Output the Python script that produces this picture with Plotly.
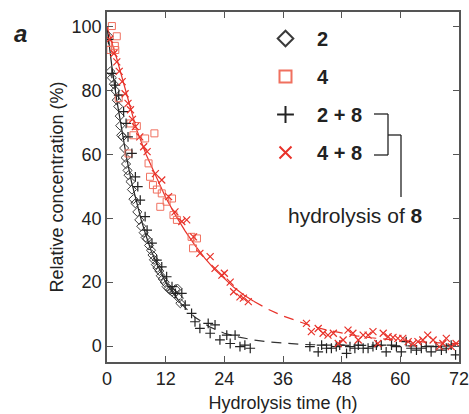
import plotly.graph_objects as go

# ---- data ----
# compound 2 (diamonds)
t2 = [0.3, 0.7, 1.0, 1.4, 1.7, 2.0, 2.3, 2.6, 2.7, 2.9, 3.2, 3.5, 3.8, 3.9, 4.2, 4.4, 4.8, 5.1,
      5.4, 5.8, 6.2, 6.6, 7.0, 7.5, 7.9, 8.2, 8.6, 9.0, 9.3, 9.6, 10.0, 10.3, 10.7, 11.0, 11.4,
      11.8, 12.2, 12.6, 12.9, 13.3, 13.7, 14.0, 14.4, 14.7, 15.0]
y2 = [97, 86, 84, 82, 80, 77, 75, 72, 69, 66, 65.5, 62, 59, 57, 55, 53.5, 51.5, 49,
      46, 44.7, 42, 39.5, 37.5, 35.5, 34, 33.5, 31.5, 30, 28.5, 27, 25.5, 24.5, 23.5, 22, 21,
      20, 18.6, 18, 17.5, 17, 16.5, 17.8, 18, 15, 13.4]

# compound 4 (squares)
t4 = [1.0, 2.0, 1.6, 1.7, 0.7, 2.4, 4.8, 6.1, 5.4, 7.8, 9.7, 4.4, 8.5, 8.8, 9.4, 10.2, 11.2,
      10.9, 12.2, 13.3, 13.6, 14.3, 17.3, 18.4, 17.6, 0.3]
y4 = [100.2, 97, 94, 92.7, 92.7, 77.6, 69.7, 68.9, 66, 65, 66.6, 60.3, 57.2, 53, 50.4, 49, 47.8,
      43.6, 45.2, 46.2, 41, 39.5, 34.2, 33.7, 30.6, 95]

# 2 + 8 (plus)
t28 = [0.3, 1.0, 1.7, 2.4, 3.4, 3.9, 4.3, 5.1, 5.8, 6.3, 6.8, 7.8, 8.2, 9.2, 10.2, 11.2, 12.2,
       13.3, 14.0, 15.3, 16.0, 17.3, 18.0, 19.0, 20.7, 21.1, 22.1, 23.1, 24.5, 25.2, 26.2, 27.2,
       28.2, 29.3, 41.5, 43.2, 43.9, 44.9, 45.9, 46.9, 47.6, 49.0, 49.7, 50.7, 51.4, 52.4, 53.4,
       54.4, 55.1, 56.1, 57.1, 58.2, 59.2, 60.2, 61.2, 62.2, 63.3, 64.3, 65.3, 66.3, 67.3, 68.4,
       69.4, 70.4, 71.3]
y28 = [96, 85.4, 81.7, 78.6, 73.4, 69.7, 65.5, 60.3, 53, 49.9, 45.7, 40.5, 36.3, 32.2, 26.9,
       24.8, 21.7, 18.6, 16.5, 16.5, 12.8, 10.2, 7.6, 5.5, 7.1, 4.0, 6.6, 1.9, 3.4, 0.8, 3.4,
       -0.2, 0.3, -0.7, -0.2, -1.8, 0.3, -0.7, -0.7, -0.2, 0.3, -2.3, -0.2, -0.7, 0.3, -0.7,
       -0.7, -0.2, 0.3, 0.3, -1.8, 0.3, -0.2, -1.8, 1.4, -0.7, -1.3, -0.7, -0.2, -1.8, -0.2,
       -1.3, -0.7, 0.3, -2.8]

# 4 + 8 (x)
t48 = [0.5, 1.4, 2.0, 2.5, 3.1, 3.7, 4.3, 4.8, 5.2, 5.8, 6.7, 7.5, 8.2, 9.9, 11.2, 12.6, 13.9,
       15.3, 16.3, 17.7, 19.0, 21.1, 22.1, 23.5, 24.0, 25.2, 25.9, 27.2, 27.9, 28.9, 40.8, 41.8,
       43.2, 44.2, 45.2, 46.3, 47.3, 48.3, 49.3, 50.3, 51.4, 52.4, 53.4, 54.4, 55.4, 56.5, 57.5,
       58.5, 59.5, 60.5, 61.6, 62.6, 63.6, 64.6, 65.6, 66.7, 68.0, 68.7, 69.4, 70.4, 71.4]
y48 = [96, 91.6, 89, 86, 82.8, 79, 76, 74, 71, 68.7, 65.5, 62.4, 60.9, 54, 52, 46.8, 42, 39,
       39.5, 34.2, 29, 28, 24.3, 22.2, 22.8, 20, 17, 15.4, 15, 13.9, 7.1, 4.5, 5.5, 4, 3.4, 4,
       0.8, 1.9, 5, 4, 1.9, 3.4, 3.4, 4.5, 0.8, 4, 2.9, 2.7, 2.4, 2.4, 1.4, 0.8, 1.4, 1.9, 3.4,
       1.9, -0.2, 0.8, 2.4, -0.2, 0.8]

# fitted curves
fit_black_t = [0, 1, 2, 3, 4, 5, 6, 7, 8, 9, 10, 11, 12, 13, 14, 15]
fit_black_y = [100, 87.5, 77, 67.5, 59, 51.5, 45, 39.5, 34.5, 30, 26.5, 23, 20, 17.7, 15.5, 13.5]
fit_black_dash_t = [15, 18, 21, 24, 27, 30, 33, 36, 40, 45, 50, 55, 60, 66, 72]
fit_black_dash_y = [13.5, 9, 6, 4, 2.8, 1.9, 1.3, 0.9, 0.5, 0.3, 0.2, 0.1, 0.05, 0, 0]
fit_red_t = [0, 2, 4, 6, 8, 10, 12, 14, 16, 18, 20, 22, 24, 26, 28, 30]
fit_red_y = [100, 90, 79, 68, 60, 53, 46.5, 41, 36, 31.5, 27.5, 24, 21, 18.3, 16, 14]
fit_red_dash_t = [30, 33, 36, 39, 42, 45, 48, 51, 54, 57, 60, 63, 66, 69, 72]
fit_red_dash_y = [14, 11.5, 9.4, 7.7, 6.2, 5, 4, 3.2, 2.6, 2.1, 1.7, 1.4, 1.1, 0.9, 0.8]

x_ticks = [0, 12, 24, 36, 48, 60, 72]
y_ticks = [0, 20, 40, 60, 80, 100]

BLACK = "#222222"
RED = "#e8322a"
SALMON = "#f0705f"
FONT = "Liberation Sans, Arial, sans-serif"

fig = go.Figure()

# fit lines
fig.add_trace(go.Scatter(x=fit_black_t, y=fit_black_y, mode="lines",
                         line=dict(color=BLACK, width=1.2), showlegend=False))
fig.add_trace(go.Scatter(x=fit_black_dash_t, y=fit_black_dash_y, mode="lines",
                         line=dict(color="#333333", width=1.2, dash="10px,7px"), showlegend=False))
fig.add_trace(go.Scatter(x=fit_red_t, y=fit_red_y, mode="lines",
                         line=dict(color=RED, width=1.2), showlegend=False))
fig.add_trace(go.Scatter(x=fit_red_dash_t, y=fit_red_dash_y, mode="lines",
                         line=dict(color=RED, width=1.2, dash="10px,7px"), showlegend=False))

# data
fig.add_trace(go.Scatter(x=t2, y=y2, mode="markers", name="<b>2</b>", legendgroup="a",
                         marker=dict(symbol="diamond-open", size=7, color="#3a3a3a",
                                     line=dict(width=1))))
fig.add_trace(go.Scatter(x=t4, y=y4, mode="markers", name="<b>4</b>", legendgroup="b",
                         marker=dict(symbol="square-open", size=7, color=SALMON,
                                     line=dict(width=1))))
fig.add_trace(go.Scatter(x=t28, y=y28, mode="markers", name="<b>2 + 8</b>", legendgroup="c",
                         marker=dict(symbol="cross-thin-open", size=7, color=BLACK,
                                     line=dict(width=1.2, color=BLACK))))
fig.add_trace(go.Scatter(x=t48, y=y48, mode="markers", name="<b>4 + 8</b>", legendgroup="d",
                         marker=dict(symbol="x-thin-open", size=7, color=RED,
                                     line=dict(width=1.2, color=RED))))

W, H = 469, 414
L, R, T, B = 107, 10, 12, 52
pw, ph = W - L - R, H - T - B


def px(x):
    return (x - L) / pw


def py(y):
    return (H - B - y) / ph


axis_common = dict(showline=True, linecolor="#555555", linewidth=1.5, mirror="ticks",
                   ticks="inside", ticklen=6, tickwidth=1.2, tickcolor="#555555",
                   showgrid=False, zeroline=False, automargin=False,
                   ticklabeloverflow="allow",
                   tickfont=dict(family=FONT, size=18, color=BLACK))

fig.update_layout(
    width=W, height=H,
    margin=dict(l=L, r=R, t=T, b=B),
    paper_bgcolor="white", plot_bgcolor="white",
    font=dict(family=FONT, color=BLACK),
    xaxis=dict(range=[0, 72], tickvals=x_ticks,
               title=dict(text="Hydrolysis time (h)", font=dict(size=18), standoff=8),
               **axis_common),
    yaxis=dict(range=[-5, 104.6], tickvals=y_ticks,
               title=dict(text="Relative concentration (%)", font=dict(size=18), standoff=3),
               **axis_common),
    legend=dict(x=px(254), y=py(19), xanchor="left", yanchor="top",
                font=dict(family=FONT, size=20, color=BLACK),
                traceorder="grouped", tracegroupgap=9, itemsizing="constant",
                itemwidth=53, bgcolor="rgba(0,0,0,0)"),
    showlegend=True,
)

# bracket connecting 2+8 and 4+8 to the "hydrolysis of 8" label
seg = [((374, 114), (388, 114)), ((374, 155), (388, 155)), ((388, 114), (388, 155)),
       ((388, 135), (401, 135)), ((401, 135), (401, 197))]
for (x0, y0), (x1, y1) in seg:
    fig.add_shape(type="line", xref="paper", yref="paper",
                  x0=px(x0), y0=py(y0), x1=px(x1), y1=py(y1),
                  line=dict(color=BLACK, width=1.3))

fig.add_annotation(text="hydrolysis of <b>8</b>", xref="paper", yref="paper",
                   x=px(355), y=py(215), xanchor="center", yanchor="middle", showarrow=False,
                   font=dict(family=FONT, size=21, color=BLACK))
fig.add_annotation(text="<b><i>a</i></b>", xref="paper", yref="paper",
                   x=px(20), y=py(33), xanchor="center", yanchor="middle", showarrow=False,
                   font=dict(family=FONT, size=24, color=BLACK))

fig.write_html("out.html", config={"displayModeBar": False},
               post_script="document.body.style.margin='0px';document.body.style.overflow='hidden';")
